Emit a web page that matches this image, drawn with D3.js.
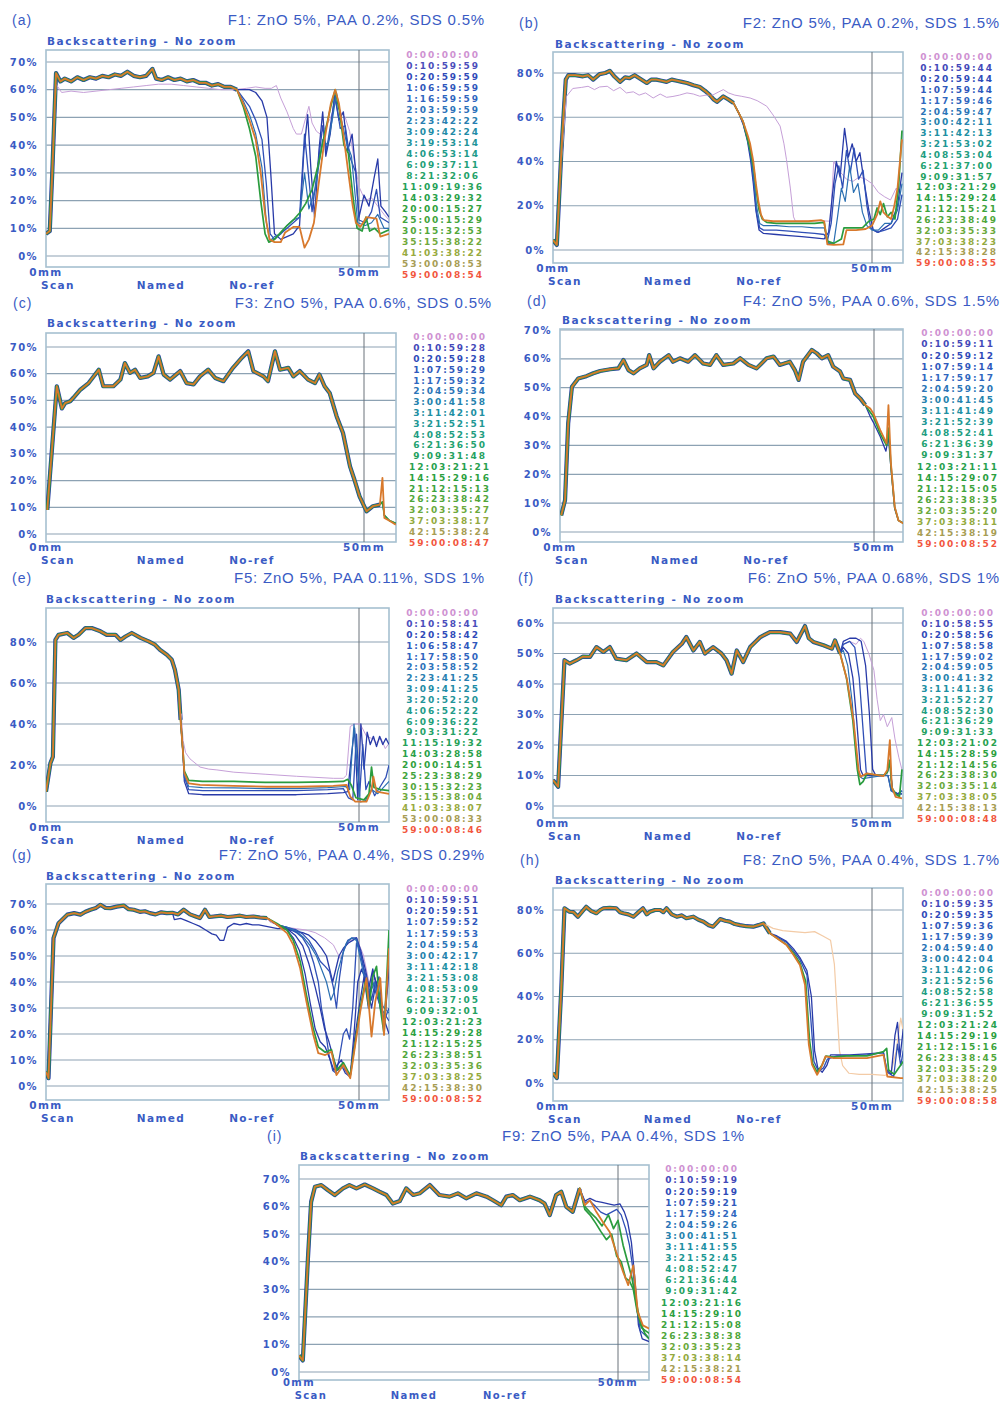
<!DOCTYPE html>
<html>
<head>
<meta charset="utf-8">
<script src="https://cdn.jsdelivr.net/npm/d3@7"></script>
<style>
  body { margin: 0; background: #fff; }
  svg text { font-family: "DejaVu Sans", sans-serif; }
</style>
</head>
<body>
<div id="chart"></div>
<script>
// ---------------- data: backscattering profiles (height mm, BS %) ----------------
const ticks60 = [0, 10, 20, 30, 40, 50, 60]
const ticks70 = [0, 10, 20, 30, 40, 50, 60, 70]
const ticks80 = [0, 20, 40, 60, 80]

// (a) F1
const aTimes = ["0:00:00:00","0:10:59:59","0:20:59:59","1:06:59:59","1:16:59:59","2:03:59:59","2:23:42:22","3:09:42:24","3:19:53:14","4:06:53:14","6:09:37:11","8:21:32:06","11:09:19:36","14:03:29:32","20:00:15:27","25:00:15:29","30:15:32:53","35:15:38:22","41:03:38:22","53:00:08:53","59:00:08:54"]
const aBase = [[0,8],[0.6,9],[1.0,30],[1.6,66],[2.3,63],[3,64],[4,63],[5,64.5],[6,63.5],[7,64.5],[8,64],[9,65],[10,64.5],[11,65.5],[12,65],[13,66.5],[14,65],[15,64.5],[16,65],[17,67.5],[17.6,64],[18.5,63.5],[19.5,64.5],[20.5,63.5],[21.5,64],[22.5,63],[23.5,63.5],[24.5,62.5],[25.5,62.5],[26.5,61.5],[27.5,62],[28.5,61],[29.5,61],[30.5,60]]
const aT0 = [[0,8],[0.6,9],[1.0,30],[1.6,62],[2.5,59],[4,59.5],[6,59],[8,59.5],[10,60],[12,60.5],[14,61],[16,61.5],[18,62],[20,62],[22,61.5],[24,61],[26,60.5],[28,60],[30,60],[32,60.5],[33.5,61],[35,60.5],[36,60.5],[36.8,61.5],[37.5,57],[38.5,52],[39.5,46],[40,44],[40.8,44],[41.5,50],[42,54],[42.5,48],[43.2,45],[43.8,44],[44.5,46],[45.5,50],[46.3,56],[47,52],[47.8,50],[48.5,45],[49.2,35],[50,25],[51,20],[52,21],[53,18],[54,15],[54.8,13]]
const aBlue1 = [[31.5,60],[32.5,60],[33.5,59],[34.5,56],[35.3,50],[35.9,30],[36.5,8],[37.5,6],[38.5,7],[39.5,8],[40.5,11],[41.2,38],[41.8,51],[42.3,32],[42.9,14],[43.6,38],[44.2,52],[44.7,36],[45.4,44],[46.1,58],[46.8,49],[47.5,52],[48.2,38],[48.9,44],[49.5,30],[50,14],[50.8,22],[51.6,18],[52.4,28],[53,35],[53.5,18],[54.2,16],[54.8,14]]
const aBlue2 = [[31.5,57],[32.5,54],[33.5,49],[34.5,42],[35.2,26],[35.8,8],[36.5,6],[37.5,8],[38.5,10],[39.5,12],[40.5,14],[41.3,44],[41.9,30],[42.5,16],[43.3,30],[44.2,47],[44.8,38],[45.5,48],[46.2,58],[47,46],[47.8,47],[48.5,36],[49.5,30],[50,13],[51,12],[52,16],[52.8,24],[53.4,14],[54.8,12]]
const aBlue3 = [[31.5,56],[32.5,51],[33.5,44],[34.5,32],[35.2,12],[35.8,5.5],[36.5,7],[37.5,8],[38.5,11],[39.5,13],[40.5,14],[41.3,30],[42,17],[43,24],[44.2,42],[45,40],[45.8,50],[46.4,59],[47.2,49],[48,41],[48.8,36],[49.8,12],[51,11],[52,12],[53,15],[54,10],[54.8,10]]
const aGreen = [[31.5,54],[32.5,46],[33.5,36],[34.3,20],[35,8],[35.6,5],[36.5,6],[37.5,8.5],[38.5,11],[39.5,13],[40.5,15.5],[41.5,19],[42.5,24],[43.5,33],[44.5,44],[45.5,54],[46.2,60],[46.9,52],[47.6,40],[48.3,37],[49,22],[49.7,10],[50.5,9],[51.1,14],[51.7,9],[52.5,10],[53.4,8],[54.8,9.5]]
const aFinal = [[31.5,55],[32.5,49],[33.5,42],[34.3,30],[35,15],[35.7,6],[36.5,5],[37.5,5],[38.2,8.5],[39.5,10.5],[40.5,10.5],[41.3,3],[42,6],[42.8,12],[43.5,25],[44.5,42],[45.5,55],[46.2,60],[46.8,55],[47.5,44],[48.3,30],[49,18],[49.5,12],[50.2,10.5],[51.2,14],[52.8,13.5],[53.4,7],[54.8,8]]

// (b) F2
const bTimes = ["0:00:00:00","0:10:59:44","0:20:59:44","1:07:59:44","1:17:59:46","2:04:59:47","3:00:42:11","3:11:42:13","3:21:53:02","4:08:53:04","6:21:37:00","9:09:31:57","12:03:21:29","14:15:29:24","21:12:15:21","26:23:38:49","32:03:35:33","37:03:38:23","42:15:38:28","59:00:08:55"]
const bBase = [[0,4.5],[0.6,2.3],[1.3,44],[2,77],[2.4,79],[3.5,79],[4.7,78.5],[5.5,79],[6.3,77],[7.3,79.5],[8.2,80],[8.9,81],[9.6,78.5],[10.5,76],[11.3,78],[12,77.7],[12.8,79],[13.6,77.5],[14.7,75.5],[15.4,77],[16.2,77],[17,76.5],[17.8,76],[18.6,77],[19.4,76.5],[20.2,76],[21,75.5],[22,74.5],[23,73.7],[23.8,72],[24.6,70],[25.2,68],[25.7,67],[26.7,69.4],[27.5,68],[28.3,66.4]]
const bT0 = [[0,4.5],[0.6,2.3],[1.3,40],[2.1,69.4],[3.1,73],[4.5,73.5],[5.5,74],[6.5,72.5],[7.3,73.7],[8.5,74],[9.5,72],[10.5,73.5],[11.5,71],[12.6,71.5],[13.5,70],[14.5,71],[15.7,68.7],[16.8,70.5],[17.8,69],[18.8,69.4],[19.8,70],[21,71],[22,70.5],[23,69.5],[24,70],[25,70],[26,71.5],[26.7,72.5],[27.5,71],[28.5,70],[29.5,69.5],[30.9,68.7],[32,67.5],[33.5,65],[34.5,61],[35.6,56],[36.2,48],[36.6,40.8],[37.2,28],[37.7,15],[38,13],[40,13],[42,13.2],[43.5,13],[44,40],[44.8,36],[46,32],[47,31],[48,33],[49,32],[50,30],[51,26],[52,24],[52.9,22.6],[53.8,28],[54.7,24]]
const bBlue1 = [[29.1,62],[29.8,57],[30.5,49],[31,40],[31.4,30],[31.8,18],[32.3,9],[33,7.5],[35,7],[37,6.5],[39,6],[41,5.5],[42.5,5],[43.2,8],[43.8,25],[44.4,40],[45,33],[45.7,55],[46.3,42],[46.9,48],[47.5,40],[48.1,44],[48.8,30],[49.5,18],[50.2,9],[51,8],[52,10],[53,12],[54,20],[54.7,35]]
const bBlue2 = [[29.1,62],[29.8,57],[30.5,50],[31,42],[31.5,30],[31.9,17],[32.4,10],[33,9],[35,9],[37,8.5],[39,8],[41,7.5],[42.5,7],[43,4],[43.6,12],[44.2,30],[44.8,38],[45.4,28],[46,45],[46.6,35],[47.2,46],[47.9,32],[48.6,36],[49.2,20],[49.8,10],[50.8,8],[52,9],[53,10],[54,14],[54.7,25]]
const bBlue3 = [[29.1,62],[29.8,58],[30.5,51],[31,43],[31.5,32],[31.9,20],[32.4,12],[33,11],[35,11],[37,10.5],[39,10.5],[41,10],[42.5,10],[43.2,3],[44,3],[44.6,15],[45.2,28],[45.8,22],[46.5,38],[47.1,26],[47.8,30],[48.5,17],[49.2,11],[50,9],[51,9],[52,12],[53,12],[54,18],[54.7,30]]
const bGreen = [[29.1,62],[29.8,58],[30.5,50],[31,44],[31.5,36],[31.9,26],[32.3,18],[32.8,14],[33.5,12.5],[35,12],[37,12],[39,12],[41,12],[42.5,12.5],[43,4],[44,3],[45.2,5],[45.6,10],[47,10],[48.5,10],[49.5,13],[50.3,14],[50.8,19],[51.3,16],[51.8,21],[52.4,15],[53,17],[53.6,14],[54.2,30],[54.7,54]]
const bFinal = [[29.1,62],[29.8,58],[30.5,52],[30.9,48],[31.4,40],[31.8,30],[32.2,22],[32.6,16],[33,13.5],[34.5,13],[36,13],[38,13],[40,13],[42,13.5],[42.5,13],[43,2.5],[44,2.3],[45.5,2.5],[46,9],[47.5,9],[49,9.5],[50,11],[50.8,16],[51.3,22],[51.8,17],[52.5,15],[53,14],[53.5,20],[54,28],[54.7,50]]

// (c) F3
const cTimes = ["0:00:00:00","0:10:59:28","0:20:59:28","1:07:59:29","1:17:59:32","2:04:59:34","3:00:41:58","3:11:42:01","3:21:52:51","4:08:52:53","6:21:36:50","9:09:31:48","12:03:21:21","14:15:29:16","21:12:15:13","26:23:38:42","32:03:35:27","37:03:38:17","42:15:38:24","59:00:08:47"]
const cBase = [[0.2,9],[1.7,55.3],[2.5,47],[3,49],[3.8,49.7],[4.3,51],[5.4,54],[6.7,56.5],[8.3,61.5],[9,55.3],[10.6,55.3],[11.7,57.8],[12.4,64],[13.2,60.3],[14,61.5],[14.8,58.4],[16,59],[16.9,60.3],[17.7,66.5],[18.5,59.7],[19.5,57.8],[21.1,61],[22.1,56.5],[23.2,56],[24.2,59],[25.5,61.5],[26.6,58.4],[27.9,57.2],[29.4,62.2],[30.8,66],[31.8,68.4],[32.6,61],[34.2,59],[34.9,57.2],[36,68.4],[36.8,61.5],[38.1,62.2],[38.9,59],[39.9,61],[41.2,57.8],[42.3,56.5],[43,59.7],[43.8,55.3],[44.6,52.8],[45.7,44],[46.7,37.8],[47.8,25.3],[48.5,20.3],[49.3,14.1],[50.4,8.5],[51.4,10.4],[52.5,11]]
const cGreen = [[52.9,12],[53.2,7],[54,5],[55,4]]
const cFinal = [[52.9,21],[53.2,6],[54,5],[55,3.5]]

// (d) F4
const dTimes = ["0:00:00:00","0:10:59:11","0:20:59:12","1:07:59:14","1:17:59:17","2:04:59:20","3:00:41:45","3:11:41:49","3:21:52:39","4:08:52:41","6:21:36:39","9:09:31:37","12:03:21:11","14:15:29:07","21:12:15:05","26:23:38:35","32:03:35:20","37:03:38:11","42:15:38:19","59:00:08:52"]
const dBase = [[0.2,5.8],[0.8,11],[1.3,37.6],[1.9,50.3],[2.9,53.2],[4.2,54],[5.3,55],[6.4,55.8],[8,56.4],[9.3,56.7],[10.1,59.6],[10.9,56.1],[11.7,55],[12.7,56.7],[13.8,57.9],[14.2,61.3],[14.9,56.7],[15.9,59],[17.3,61.3],[18,59],[19.1,60.2],[20.4,59],[21.5,61.3],[22.8,58.4],[23.9,57.9],[24.9,61.3],[26,57.9],[27.6,58.4],[28.7,60.2],[30,57.9],[31.3,56.7],[32.9,60.2],[34,60.8],[35,57.9],[36.6,59],[37.4,56.1],[38,52.7],[38.7,59],[40.1,63.1],[40.9,61.9],[41.7,60.2],[42.7,61.3],[43.5,57.3],[44.6,55.6],[45.1,53.2],[46.2,52.7],[47,48],[47.8,46.3],[48.6,44]]
const dBlue = [[49.4,40],[49.9,38],[51,33],[51.9,28],[52.3,33],[52.7,22],[53.3,8],[53.9,4],[54.7,3]]
const dGreen = [[49.4,41.5],[49.9,40],[51,34],[52,30],[52.3,36],[52.7,23],[53.3,8.5],[53.9,4],[54.7,3]]
const dFinal = [[49.4,42.8],[49.9,41.1],[51,35.3],[52,30.7],[52.3,44],[52.7,23.7],[53.3,8.7],[53.9,4],[54.7,2.9]]

// (e) F5
const eTimes = ["0:00:00:00","0:10:58:41","0:20:58:42","1:06:58:47","1:17:58:50","2:03:58:52","2:23:41:25","3:09:41:25","3:20:52:20","4:06:52:22","6:09:36:22","9:03:31:22","11:15:19:32","14:03:28:58","20:00:14:51","25:23:38:29","30:15:32:23","35:15:38:04","41:03:38:07","53:00:08:33","59:00:08:46"]
const eBase = [[0,7],[0.7,20.8],[1.1,24],[1.5,81],[2,83.5],[3.4,84.4],[4.4,82],[5.2,83.5],[6.3,86.8],[7.3,86.8],[8.7,85.2],[9.7,83.5],[11.1,83.5],[11.9,81],[12.7,82.7],[13.7,84.4],[15.1,82],[16.4,80.3],[17.4,78.7],[18.2,76.2],[19.3,73.8],[20.1,71.3],[20.6,66.4],[21.2,56.7],[21.5,42]]
const eT0 = [[21.6,45],[21.9,32],[22.3,26],[23,23],[24.6,19],[26,18],[27.3,17.6],[30,16.5],[35,15.5],[40,14.5],[45.9,13.5],[47.5,13.5],[48,15],[48.6,38.8],[49.3,40],[50.2,40],[51.2,34],[52,33],[52.8,31],[53.5,33],[54.2,28],[54.8,30.6]]
const eBlue1 = [[21.9,25],[22.1,12],[22.8,6],[25,5.5],[30,5.5],[35,5.5],[40,5.5],[45,6],[47.5,6.5],[48.2,7],[48.8,25],[49.3,38],[49.8,3],[50.3,40],[50.8,18],[51.3,36],[51.8,30],[52.3,34],[52.8,29],[53.3,34],[53.8,30],[54.3,33],[54.8,30]]
const eBlue2 = [[21.9,25],[22.1,14],[22.8,8],[25,7.5],[30,7.5],[35,7.5],[40,7.5],[45,8],[47.5,8.5],[48.3,4],[49,3],[49.6,35],[50.1,5],[50.6,30],[51.1,8],[51.6,12],[52.5,5],[53.5,10],[54.3,14],[54.8,20]]
const eBlue3 = [[21.9,25],[22.1,15],[22.8,9.5],[25,9],[30,8.8],[35,8.5],[40,8.5],[45,9],[47.8,9.5],[48.5,8],[49.2,40],[49.7,20],[50.2,2],[51,2.5],[52,8],[53,6],[54.8,12]]
const eGreen = [[21.9,26],[22.1,17],[22.8,12.5],[25,12],[30,12],[35,11.5],[40,11.5],[45,11.8],[47.5,12],[48.2,13],[48.8,10],[49.5,4],[50.8,3],[51.6,6],[52,19],[52.4,9],[53.5,8],[54.8,7.5]]
const eFinal = [[21.9,25.7],[22.1,16],[22.8,11],[24.6,10.3],[29.9,9.8],[35.3,9.4],[40.6,9.4],[45.9,9.8],[48,10.3],[48.6,4.6],[49.4,2.1],[51.2,2.1],[52,7.8],[52.3,14.3],[52.8,7],[54.8,5.9]]

// (f) F6
const fTimes = ["0:00:00:00","0:10:58:55","0:20:58:56","1:07:58:58","1:17:59:02","2:04:59:05","3:00:41:32","3:11:41:36","3:21:52:27","4:08:52:30","6:21:36:29","9:09:31:33","12:03:21:02","14:15:28:59","21:12:14:56","26:23:38:30","32:03:35:14","37:03:38:05","42:15:38:13","59:00:08:48"]
const fBase = [[0,8.5],[0.8,6.3],[1.8,47.8],[2.6,46.7],[3.7,47.8],[4.7,49],[5.8,48.9],[6.8,52.1],[7.9,50.5],[8.9,52.1],[9.9,48.3],[11.5,47.8],[13.1,50],[14.7,47.2],[16.2,47.2],[17.3,46.1],[18.8,50.5],[20.2,53.2],[20.9,55.4],[22,51],[23,53.8],[23.8,50],[25.1,52.1],[26.4,50],[27.2,47.8],[28,43.4],[28.8,51],[29.8,47.2],[30.9,52.1],[32.5,55.4],[34,57],[35.6,57],[37.2,56.5],[38.2,53.8],[39.5,59],[40.1,55],[40.8,53.8],[42.4,52.7],[43.7,51.6],[44.2,54.3],[45,50]]
const fT0 = [[45.5,53],[46.5,54],[47.5,53],[48.2,55],[48.7,54],[49.5,50],[50.3,44.5],[50.8,35],[51.3,28],[51.8,30],[52.4,26],[53.1,29],[53.6,22],[54.2,16],[54.7,11.8]]
const fBlue1 = [[45.5,54],[46.5,55],[47.5,55],[48.3,54],[49,46],[49.6,30],[50.1,12],[50.6,10],[51.8,10],[52.4,11],[52.8,15],[53.2,5],[54,4],[54.7,4]]
const fBlue2 = [[45.5,53],[46.5,54],[47.3,52],[48,42],[48.6,25],[49.1,11],[49.6,10],[51.8,10],[52.4,11],[52.8,14],[53.2,5],[54,4],[54.7,4]]
const fBlue3 = [[45.5,52],[46.3,50],[47,42],[47.6,28],[48.2,12],[48.6,10],[51.8,10],[52.5,10],[53,5],[54,4],[54.7,5]]
const fBlue4 = [[45.5,51],[46.2,46],[46.9,34],[47.5,18],[47.9,10],[48.5,9],[51.8,10],[52.5,10],[53,5],[54,3.5],[54.7,5]]
const fGreen = [[46,42],[47,28],[47.7,12],[48.1,7],[48.6,8],[49.2,10.5],[51.8,10],[52.4,11],[52.8,15],[53.1,6],[53.7,4],[54.3,3],[54.7,12]]
const fFinal = [[46.1,41.2],[47.1,28.1],[47.9,11.8],[48.2,9.6],[49.2,10.7],[51.8,9.8],[52.4,11.8],[52.8,21.6],[53.1,6.3],[53.7,3],[54.7,2.5]]

// (g) F7
const gTimes = ["0:00:00:00","0:10:59:51","0:20:59:51","1:07:59:52","1:17:59:53","2:04:59:54","3:00:42:17","3:11:42:18","3:21:53:08","4:08:53:09","6:21:37:05","9:09:32:01","12:03:21:23","14:15:29:28","21:12:15:25","26:23:38:51","32:03:35:36","37:03:38:25","42:15:38:30","59:00:08:52"]
const gBase = [[0,5.5],[0.4,3],[1.2,56.9],[2,62.6],[3.4,65.9],[4.5,66.5],[5.5,65.9],[6.3,67],[7.1,67.8],[8,68.5],[8.7,69.7],[9.5,68.5],[10.3,68.4],[11.3,69],[12.4,69.4],[13.2,68],[14,67.8],[15,67],[15.8,67.2],[16.6,66.5],[17.5,66],[18.4,66.8],[19.3,66.5],[20.2,66.6],[21.1,66],[22,67.8],[23,66],[23.8,65.3],[24.6,64.6],[25.4,67.8],[26.1,65],[26.8,65.2],[28,65.5],[29,65],[29.9,65.2],[31,65.5],[32,65],[33.1,65.2],[34.2,64.8],[35.3,64.6]]
const gT0 = [[35.8,63],[37,62],[38.5,61],[40,60.5],[41.5,60],[43,59],[44.5,57],[45.9,54.3],[47,49],[48.3,55.6],[49.6,56.9],[50.7,50.4],[51.8,37.6],[52.5,42],[53.2,35],[54,30],[54.8,40]]
const gBlue1 = [[20.5,64],[21.5,64.5],[22.5,63.5],[23.5,62.5],[24.5,61.5],[25.5,60],[26.5,58.5],[27.2,58],[27.8,56],[28.4,56],[29,61],[30,62.5],[31,62],[32,62.5],[33,62],[34,62],[35,61.5],[36,61],[37,60.5],[38,60.5],[39,60],[40,59.5],[41,59],[42,58],[43,56],[44,53],[44.8,50],[45.3,45],[45.8,40],[46.3,45],[46.8,50],[47.5,53],[48.3,55],[49,56],[49.6,57],[50.3,52],[51,45],[51.6,38],[52.2,45],[52.8,38],[53.4,30],[54.8,20]]
const gBlue2 = [[36.9,62],[38.5,61],[40,59],[41,57],[42,53],[42.8,47],[43.5,40],[44,30],[44.6,22],[45.2,12],[45.8,6],[46.3,5],[46.8,10],[47.5,20],[48,22],[48.5,18],[49,30],[49.6,55],[50.2,52],[50.8,45],[51.4,40],[52,33],[52.6,40],[53.3,35],[54,25],[54.8,30]]
const gBlue3 = [[36.9,62],[38.5,60],[39.5,57],[40.5,52],[41.4,43],[42.2,32],[43,22],[43.8,17],[44.6,15],[45.4,10],[46,6],[46.5,8],[47.2,10],[47.8,6],[48.6,4],[49.2,20],[49.8,40],[50.4,45],[51.2,40],[52,30],[52.6,38],[53.2,42],[54,22],[54.8,45]]
const gBlue4 = [[36.9,62],[38.5,61],[40,60],[41,58.5],[42,56],[43,52],[43.8,48],[44.6,46],[45.3,44],[45.9,38],[46.4,30],[46.9,42],[47.5,52],[48.2,56],[49,57],[49.6,57],[50.3,50],[51,42],[51.6,34],[52.2,40],[52.8,35],[53.5,30],[54.8,25]]
const gBlue5 = [[36.9,62],[38.5,61],[40,59.5],[41.2,57],[42.2,54],[43.2,50],[44,45],[44.8,40],[45.5,33],[46,36],[46.6,44],[47.3,50],[48,55],[48.8,57],[49.6,56],[50.3,48],[51,40],[51.8,36],[52.5,40],[53.3,32],[54.8,28]]
const gBlue6 = [[36.9,62],[38.5,60.5],[39.8,58],[41,54],[42,47],[43,38],[43.8,30],[44.5,22],[45.2,17],[46,10],[46.6,6],[47.2,8],[47.8,5],[48.6,3.5],[49.3,18],[50,30],[50.8,42],[51.5,30],[52.2,44],[53,38],[54,22],[54.8,50]]
const gGreen = [[36.9,62.5],[38.5,60],[39.5,56],[40.6,48],[41.6,35],[42.7,22],[43.5,15],[44.6,13],[45.6,14],[46.4,6],[47.5,9],[48.6,4],[49.4,17],[50.2,30],[51,40],[51.6,30],[52.2,42],[52.8,46],[53.4,30],[54,20],[54.8,60]]
const gFinal = [[36.9,62],[38.5,58.8],[39.5,54.3],[40.6,45.3],[41.6,32.5],[42.7,19.6],[43.5,12.6],[44.6,11.9],[45.6,13.2],[46.4,4.2],[47.5,8.1],[48.6,3],[49.4,15.8],[50.2,28.6],[51.2,41.5],[52,19],[52.6,32.5],[53.4,41.5],[54,19.6],[54.8,53]]

// (h) F8
const hTimes = ["0:00:00:00","0:10:59:35","0:20:59:35","1:07:59:36","1:17:59:39","2:04:59:40","3:00:42:04","3:11:42:06","3:21:52:56","4:08:52:58","6:21:36:55","9:09:31:52","12:03:21:24","14:15:29:19","21:12:15:16","26:23:38:45","32:03:35:29","37:03:38:20","42:15:38:25","59:00:08:58"]
const hBase = [[0,4.6],[0.6,2.3],[1.3,43.8],[1.8,80.8],[2.6,79.2],[3.2,79],[3.9,76.9],[4.5,79],[5.2,81.5],[6,79.5],[6.8,78.5],[7.4,80],[7.9,80.8],[8.9,81],[9.9,80.8],[10.5,79],[11,78.5],[11.8,78],[12.6,76.9],[13.4,79],[14.1,80.8],[14.7,78],[15.2,79.2],[16,80],[16.8,80],[17.3,79],[17.8,80.8],[18.6,78],[19.4,76.9],[20.2,77.5],[20.9,76.2],[22,76.9],[22.8,75.5],[23.6,74.6],[24.4,73],[25.1,72.3],[26.2,75.8],[27,75],[27.7,74.6],[28.5,73.5],[29.3,73],[30.3,72.5],[31.4,72.3],[32.2,73],[33,73.8],[34,69.2]]
const hT0 = [[33.5,73],[34.5,71.5],[36,70.5],[37.7,70],[39.5,69.5],[41,70],[42.3,68],[43.5,66],[44.1,55],[44.5,35],[44.9,15],[45.4,8],[46.4,4.5],[48,4],[50,4],[52,3.5],[53,5],[53.8,15],[54.5,30],[54.9,24]]
const hBlue1 = [[35.1,68],[36.6,65.5],[37.7,62],[38.7,58],[39.8,52],[40.5,40],[41,15],[41.5,7],[42.2,5],[42.9,8],[43.5,13],[44.5,13],[46.5,13],[49.2,13.5],[51.8,14],[52.3,6],[53,4],[53.6,22],[54,28],[54.4,12],[54.9,25]]
const hBlue2 = [[35.1,67.5],[36.6,65],[37.7,61],[38.7,57],[39.8,50],[40.4,30],[40.9,10],[41.6,5.5],[42.4,7],[43,11],[44.5,12.5],[46.5,12.5],[49.2,13],[51.8,14],[52.4,5],[53.4,3],[54,18],[54.5,8],[54.9,15]]
const hGreen = [[35.1,67],[36.6,64],[37.7,60],[38.7,55.5],[39.6,47],[40.2,20],[40.7,9],[41.4,5],[42.2,8.5],[42.8,12.5],[44,12],[46,12.5],[49.2,12.5],[51.8,14.5],[52.3,16],[52.6,6],[53.5,4],[54.9,10]]
const hFinal = [[35.1,66.9],[36.6,63.8],[37.7,59.2],[38.7,54.6],[39.5,45.4],[40.1,17.7],[40.6,8.5],[41.4,3.8],[42.1,7.7],[42.7,12.3],[44,11.5],[46,11.5],[49.2,11.5],[51.8,13],[52.4,3],[54.5,2.3],[54.9,2.3]]

// (i) F9
const iTimes = ["0:00:00:00","0:10:59:19","0:20:59:19","1:07:59:21","1:17:59:24","2:04:59:26","3:00:41:51","3:11:41:55","3:21:52:45","4:08:52:47","6:21:36:44","9:09:31:42","12:03:21:16","14:15:29:10","21:12:15:08","26:23:38:38","32:03:35:23","37:03:38:14","42:15:38:21","59:00:08:54"]
const iBase = [[0,6],[0.6,4.2],[1.4,41.2],[1.9,61.7],[2.5,67.2],[3.5,67.8],[4.5,66],[5.6,64.2],[6.9,66.6],[7.9,67.8],[9,66.6],[10.3,68],[11.6,66.6],[12.6,65.4],[13.7,64.2],[14.7,61.1],[15.8,62],[16.8,66.6],[17.9,64.2],[18.9,64.8],[20.5,67.8],[22,64.2],[23.6,63.6],[24.9,64.8],[26.2,63],[27.8,64.8],[29.4,63.6],[30.4,62.3],[31.7,60.5],[32.5,63.6],[33.5,64.2],[34.6,62.3],[36.2,63.6],[37.7,62.3],[38.5,61.1],[39.3,56.9],[40.3,64.2],[41.1,65.4],[41.9,59.9],[42.9,58.1],[44,66.6]]
const iBlue1 = [[44.8,62],[45.6,63],[46.5,62],[47.5,61.5],[48.5,61],[49.4,60.5],[50.3,61],[51,58],[51.5,54.5],[52.1,47],[52.6,35],[53.2,17],[53.8,12],[54.9,11]]
const iBlue2 = [[44.8,61.5],[45.6,62],[46.5,60],[47.3,58],[48.2,57],[49,58],[49.8,59],[50.5,57],[51.2,52],[51.8,46],[52.3,38],[52.9,24],[53.5,15],[54.9,12]]
const iGreen1 = [[44.8,60],[45.6,58],[46.5,56],[47.5,53],[48.5,57],[49.3,52],[50,55],[50.8,46],[51.5,40],[52.2,34],[52.8,26],[53.5,18],[54.2,14],[54.9,12]]
const iGreen2 = [[44.8,59],[45.6,57],[46.5,54],[47.3,51],[48.2,48],[49,50],[49.8,42],[50.5,40],[51.2,34],[51.8,33],[52.4,30],[53,22],[53.7,16],[54.9,14]]
const iFinal = [[44.8,60.5],[45.6,62.3],[46.6,58.1],[47.6,54.5],[48.7,50.8],[49.7,43.6],[50.8,36.3],[51.6,31.5],[52.4,38.7],[53.1,21.8],[53.9,16.9],[54.9,15.7]]

// ---------------- styles ----------------
const textBlue = "#3a5bc4"
const lineColor = {
  t0: "#c6a0d8", pale: "#f3cba6", blue: "#283aa8", blue2: "#2f4fb6",
  teal: "#2a6fb2", green: "#2a9c3e", final: "#d8792c"
}
const lineWidth = { t0: 1, pale: 1.2, blue: 1.3, blue2: 1.3, teal: 1.2, green: 1.7, final: 1.8 }
// legend colour ramp (purple -> blue -> teal -> green -> olive -> red)
const legendRamp = d3.scaleLinear()
  .domain([0, 0.06, 0.22, 0.38, 0.52, 0.68, 0.82, 0.9, 0.96, 1])
  .range(["#cf92d2", "#2f3fb6", "#2f6ac0", "#1f92a0", "#22a272", "#2aa03e", "#5aa83a", "#98aa40", "#ab9a58", "#f2563e"])

// ---------------- panels ----------------
const panels = [
  { tag: "(a)", title: "F1: ZnO 5%, PAA 0.2%, SDS 0.5%", ticks: ticks70, times: aTimes, base: aBase,
    lines: [[aT0, "t0"], [aBlue1, "blue"], [aBlue2, "blue2"], [aBlue3, "teal"], [aGreen, "green"], [aFinal, "final"]],
    pos: { tagX: 12, tagY: 25, titleX: 485, titleY: 25, bsX: 47, bsY: 45, L: 46, R: 389, T: 50, B: 267, x0: 46, x50: 359, y0: 256, yTop: 62, lx: 443, ly0: 55, lstep: 11 } },
  { tag: "(b)", title: "F2: ZnO 5%, PAA 0.2%, SDS 1.5%", ticks: ticks80, times: bTimes, base: bBase,
    lines: [[bT0, "t0"], [bBlue1, "blue"], [bBlue2, "blue2"], [bBlue3, "teal"], [bGreen, "green"], [bFinal, "final"]],
    pos: { tagX: 519, tagY: 28, titleX: 1000, titleY: 28, bsX: 555, bsY: 48, L: 553, R: 903, T: 52, B: 263, x0: 553, x50: 872, y0: 250, yTop: 73, lx: 957, ly0: 57, lstep: 10.84 } },
  { tag: "(c)", title: "F3: ZnO 5%, PAA 0.6%, SDS 0.5%", ticks: ticks70, times: cTimes, base: cBase,
    lines: [[cGreen, "blue"], [cGreen, "green"], [cFinal, "final"]],
    pos: { tagX: 13, tagY: 308, titleX: 492, titleY: 308, bsX: 47, bsY: 327, L: 46, R: 396, T: 333, B: 542, x0: 46, x50: 364, y0: 534, yTop: 347, lx: 450, ly0: 337, lstep: 10.8 } },
  { tag: "(d)", title: "F4: ZnO 5%, PAA 0.6%, SDS 1.5%", ticks: ticks70, times: dTimes, base: dBase,
    lines: [[dBlue, "blue"], [dGreen, "green"], [dFinal, "final"]],
    pos: { tagX: 527, tagY: 306, titleX: 1000, titleY: 306, bsX: 562, bsY: 324, L: 560, R: 903, T: 329, B: 542, x0: 560, x50: 874, y0: 532, yTop: 330, lx: 958, ly0: 333, lstep: 11.1 } },
  { tag: "(e)", title: "F5: ZnO 5%, PAA 0.11%, SDS 1%", ticks: ticks80, times: eTimes, base: eBase,
    lines: [[eT0, "t0"], [eBlue1, "blue"], [eBlue2, "blue2"], [eBlue3, "teal"], [eGreen, "green"], [eFinal, "final"]],
    pos: { tagX: 12, tagY: 583, titleX: 485, titleY: 583, bsX: 46, bsY: 603, L: 46, R: 389, T: 608, B: 822, x0: 46, x50: 359, y0: 806, yTop: 642, lx: 443, ly0: 613, lstep: 10.83 } },
  { tag: "(f)", title: "F6: ZnO 5%, PAA 0.68%, SDS 1%", ticks: ticks60, times: fTimes, base: fBase,
    lines: [[fT0, "t0"], [fBlue1, "blue"], [fBlue2, "blue2"], [fBlue3, "blue"], [fBlue4, "teal"], [fGreen, "green"], [fFinal, "final"]],
    pos: { tagX: 518, tagY: 583, titleX: 1000, titleY: 583, bsX: 555, bsY: 603, L: 553, R: 903, T: 608, B: 818, x0: 553, x50: 872, y0: 806, yTop: 623, lx: 958, ly0: 613, lstep: 10.8 } },
  { tag: "(g)", title: "F7: ZnO 5%, PAA 0.4%, SDS 0.29%", ticks: ticks70, times: gTimes, base: gBase,
    lines: [[gT0, "t0"], [gBlue1, "blue"], [gBlue2, "blue2"], [gBlue3, "blue"], [gBlue4, "blue2"], [gBlue5, "teal"], [gBlue6, "blue"], [gGreen, "green"], [gFinal, "final"]],
    pos: { tagX: 12, tagY: 860, titleX: 485, titleY: 860, bsX: 46, bsY: 880, L: 46, R: 389, T: 884, B: 1100, x0: 46, x50: 359, y0: 1086, yTop: 904, lx: 443, ly0: 889, lstep: 11.05 } },
  { tag: "(h)", title: "F8: ZnO 5%, PAA 0.4%, SDS 1.7%", ticks: ticks80, times: hTimes, base: hBase,
    lines: [[hT0, "pale"], [hBlue1, "blue"], [hBlue2, "blue2"], [hGreen, "green"], [hFinal, "final"]],
    pos: { tagX: 520, tagY: 865, titleX: 1000, titleY: 865, bsX: 555, bsY: 884, L: 553, R: 903, T: 888, B: 1101, x0: 553, x50: 872, y0: 1083, yTop: 910, lx: 958, ly0: 893, lstep: 10.95 } },
  { tag: "(i)", title: "F9: ZnO 5%, PAA 0.4%, SDS 1%", ticks: ticks70, times: iTimes, base: iBase,
    lines: [[iBlue1, "blue"], [iBlue2, "blue2"], [iGreen1, "green"], [iGreen2, "green"], [iFinal, "final"]],
    pos: { tagX: 267, tagY: 1141, titleX: 745, titleY: 1141, bsX: 300, bsY: 1160, L: 299, R: 649, T: 1165, B: 1380, x0: 299, x50: 618, y0: 1372, yTop: 1179, lx: 702, ly0: 1169, lstep: 11.1 } }
]

// a profile = the shared plateau up to where its own tail starts
const withBase = (base, tail) => base.filter(p => p[0] < tail[0][0]).concat(tail)

const svg = d3.select("#chart").append("svg")
  .attr("width", 1002).attr("height", 1402)

svg.append("rect").attr("width", 1002).attr("height", 1402).attr("fill", "#fff")

panels.forEach((p, k) => {
  const s = p.pos
  const g = svg.append("g")
  const x = d3.scaleLinear().domain([0, 50]).range([s.x0, s.x50])
  const top = p.ticks[p.ticks.length - 1]
  const y = d3.scaleLinear().domain([0, top]).range([s.y0, s.yTop])

  // headings
  g.append("text").attr("x", s.tagX).attr("y", s.tagY).text(p.tag)
    .attr("fill", textBlue).style("font-family", "Liberation Sans, Arial, sans-serif")
    .style("font-size", "14px").style("letter-spacing", "1px")
  g.append("text").attr("x", s.titleX).attr("y", s.titleY).text(p.title)
    .attr("text-anchor", "end").attr("fill", textBlue)
    .style("font-family", "Liberation Sans, Arial, sans-serif")
    .style("font-size", "15px").style("letter-spacing", "0.8px")
  g.append("text").attr("x", s.bsX).attr("y", s.bsY).text("Backscattering - No zoom")
    .attr("fill", textBlue).style("font-size", "10.5px").style("font-weight", "bold")
    .style("letter-spacing", "1.6px")

  // grid
  g.selectAll(".grid").data(p.ticks).enter().append("line")
    .attr("x1", s.L).attr("x2", s.R)
    .attr("y1", d => y(d)).attr("y2", d => y(d))
    .attr("stroke", "#8da2b3").attr("stroke-width", 1.2)
  g.append("rect").attr("x", s.L).attr("y", s.T)
    .attr("width", s.R - s.L).attr("height", s.B - s.T)
    .attr("fill", "none").attr("stroke", "#a6c0d0").attr("stroke-width", 1.6)
  g.append("line").attr("x1", x(50)).attr("x2", x(50)).attr("y1", s.T).attr("y2", s.B)
    .attr("stroke", "#6b737a").attr("stroke-width", 1)

  // y labels
  g.selectAll(".yl").data(p.ticks).enter().append("text")
    .attr("x", s.L - 8).attr("y", d => y(d) + 3.5)
    .attr("text-anchor", "end").text(d => d + "%")
    .attr("fill", textBlue).style("font-size", "10px").style("font-weight", "bold")
    .style("letter-spacing", "1.4px")

  // x labels (squeezed a little at the very bottom of the page)
  let mmY = s.B + 9, scanY = s.B + 22, xFont = 10.5
  if (scanY > 1399) { mmY = s.B + 6; scanY = 1399; xFont = 10 }
  const xl = g.append("g").attr("fill", textBlue)
    .style("font-size", xFont + "px").style("font-weight", "bold").style("letter-spacing", "1.4px")
  xl.append("text").attr("x", x(0)).attr("y", mmY).attr("text-anchor", "middle").text("0mm")
  xl.append("text").attr("x", x(50)).attr("y", mmY).attr("text-anchor", "middle").text("50mm")
  xl.append("text").attr("x", s.L + 12).attr("y", scanY).attr("text-anchor", "middle").text("Scan")
  xl.append("text").attr("x", s.L + 115).attr("y", scanY).attr("text-anchor", "middle").text("Named")
  xl.append("text").attr("x", s.L + 206).attr("y", scanY).attr("text-anchor", "middle").text("No-ref")

  // curves
  g.append("clipPath").attr("id", "clip" + k).append("rect")
    .attr("x", s.L).attr("y", s.T).attr("width", s.R - s.L).attr("height", s.B - s.T)
  const plot = g.append("g").attr("clip-path", "url(#clip" + k + ")")
  const line = d3.line().x(d => x(d[0])).y(d => y(d[1]))

  // the overlapping bundle of all profiles on the plateau
  plot.append("path").datum(p.base).attr("d", line).attr("fill", "none")
    .attr("stroke", "#2a3fa8").attr("stroke-width", 4.2).attr("stroke-linejoin", "round")
  plot.append("path").datum(p.base).attr("d", line).attr("fill", "none")
    .attr("stroke", "#2a9c3e").attr("stroke-width", 3).attr("stroke-linejoin", "round")

  p.lines.forEach(([tail, role]) => {
    plot.append("path").datum(withBase(p.base, tail)).attr("d", line)
      .attr("fill", "none").attr("stroke", lineColor[role])
      .attr("stroke-width", lineWidth[role]).attr("stroke-linejoin", "round")
  })

  // legend of measurement times
  const n = p.times.length
  g.selectAll(".lg").data(p.times).enter().append("text")
    .attr("x", s.lx).attr("y", (d, i) => s.ly0 + i * s.lstep + 3.3)
    .attr("text-anchor", "middle").text(d => d)
    .attr("fill", (d, i) => legendRamp(i / (n - 1)))
    .style("font-size", "9px").style("font-weight", "bold").style("letter-spacing", "1.9px")
})
</script>
</body>
</html>
